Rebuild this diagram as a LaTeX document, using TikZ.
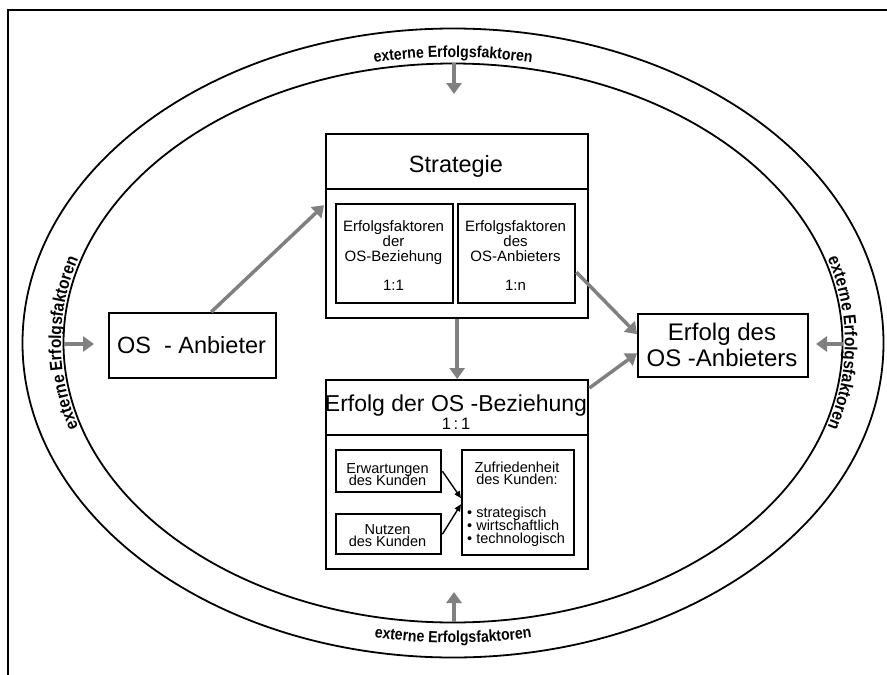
\documentclass[tikz,border=0pt]{standalone}
\usepackage{fontspec}
\setmainfont{Liberation Sans}
\newfontfamily\curvefont[FakeStretch=0.88]{Liberation Sans}
\usetikzlibrary{arrows.meta,decorations.text,calc}
\definecolor{arrgray}{RGB}{128,128,128}
\begin{document}
\begin{tikzpicture}[x=1pt,y=1pt,
  box/.style={draw, line width=2.4pt, inner sep=0pt, anchor=north west},
  garrow/.style={draw=arrgray, line width=3.5pt, -{Triangle[length=11pt,width=15pt]}},
  barrow/.style={draw=black, line width=1.4pt, -{Triangle[length=7pt,width=6pt]}},
  big/.style={anchor=base, inner sep=0pt, font=\fontsize{23.5}{26}\selectfont},
  mid/.style={anchor=base, inner sep=0pt, font=\fontsize{15}{15}\selectfont},
  small/.style={anchor=base, inner sep=0pt, font=\fontsize{14.5}{14.5}\selectfont},
  ring/.style={line width=1.8pt},
  curved/.style={decorate, decoration={text along path, text align=center,
     text={|\curvefont\bfseries\fontsize{16}{16}\selectfont|externe Erfolgsfaktoren}}},
  curvedside/.style={decorate, decoration={text along path, text align=center,
     text={|\curvefont\bfseries\fontsize{17.5}{17.5}\selectfont|externe Erfolgsfaktoren}}}
]
\useasboundingbox (0,0) rectangle (887,-675);
% frame
\draw[line width=1.4pt] (8,-675) -- (8,-10) -- (887,-10);
% ellipses
\coordinate (ctr) at (453,-343);
\draw[ring] (ctr) ellipse [x radius=430.5, y radius=314.5];
\draw[ring] (ctr) ellipse [x radius=389.5, y radius=279.5];
% curved labels
\path[curved] (ctr) ++(120:394 and 286) arc[start angle=120, end angle=60, x radius=394, y radius=286];
\path[curved] (ctr) ++(240:405 and 300) arc[start angle=240, end angle=300, x radius=405, y radius=300];
\path[curvedside] (ctr) ++(215:392 and 286) arc[start angle=215, end angle=145, x radius=392, y radius=286];
\path[curvedside] (ctr) ++(35:392 and 286) arc[start angle=35, end angle=-35, x radius=392, y radius=286];
% external arrows
\coordinate (etop) at (454,-63);   \coordinate (etopend) at (454,-94);
\coordinate (ebot) at (454,-622);  \coordinate (ebotend) at (454,-592);
\coordinate (eleft) at (64,-344);  \coordinate (eleftend) at (94,-344);
\coordinate (eright) at (843,-344);\coordinate (erightend) at (816,-344);
\draw[garrow] (etop) -- (etopend);
\draw[garrow] (ebot) -- (ebotend);
\draw[garrow] (eleft) -- (eleftend);
\draw[garrow] (eright) -- (erightend);
% OS - Anbieter
\node[box, minimum width=167pt, minimum height=65pt] (osa) at (108,-312) {};
\node[big] (osat) at (191.5,-353) {OS~~- Anbieter};
% Strategie
\node[box, minimum width=262pt, minimum height=184pt] (strat) at (325,-133) {};
\draw[line width=2.4pt] (strat.west |- 0,-189) coordinate (sdl) -- (strat.east |- 0,-189) coordinate (sdr);
\node[big] (stratt) at (456,-172) {Strategie};
\node[box, minimum width=117pt, minimum height=99pt] (sf1) at (335,-203) {};
\node[box, minimum width=117pt, minimum height=99pt] (sf2) at (457,-203) {};
\node[mid] (sf1a) at (393.5,-231) {Erfolgsfaktoren};
\node[mid] (sf1b) at (393.5,-246) {der};
\node[mid] (sf1c) at (393.5,-261.5) {OS-Beziehung};
\node[mid] (sf1d) at (393.5,-290) {1:1};
\node[mid] (sf2a) at (515.5,-231) {Erfolgsfaktoren};
\node[mid] (sf2b) at (515.5,-246) {des};
\node[mid] (sf2c) at (515.5,-261.5) {OS-Anbieters};
\node[mid] (sf2d) at (515.5,-290) {1:n};
% Erfolg der OS-Beziehung
\node[box, minimum width=262pt, minimum height=189pt] (eob) at (325,-379) {};
\draw[line width=2.4pt] (eob.west |- 0,-435) coordinate (edl) -- (eob.east |- 0,-435) coordinate (edr);
\node[big, font=\fontsize{23}{26}\selectfont] (eobt) at (456,-411) {Erfolg der OS -Beziehung};
\node[mid, font=\fontsize{16.5}{16.5}\selectfont] (eobn) at (456,-429) {1\,:\,1};
\node[box, minimum width=105pt, minimum height=42pt] (erw) at (335,-449) {};
\node[box, minimum width=105pt, minimum height=40pt] (nutz) at (335,-513) {};
\node[box, minimum width=112pt, minimum height=105pt] (zuf) at (461,-449) {};
\node[small] (erwa) at (387.5,-473.5) {Erwartungen};
\node[small] (erwb) at (387.5,-485) {des Kunden};
\node[small] (nutza) at (387.5,-534) {Nutzen};
\node[small] (nutzb) at (387.5,-546) {des Kunden};
\node[small] (zufa) at (517,-472.5) {Zufriedenheit};
\node[small] (zufb) at (517,-484.5) {des Kunden:};
\node[small, anchor=base west] (zufc) at (467,-517) {• strategisch};
\node[small, anchor=base west] (zufd) at (467,-530) {• wirtschaftlich};
\node[small, anchor=base west] (zufe) at (467,-543.5) {• technologisch};
\draw[barrow] (erw.east) -- ($(zuf.west)+(0,4.5)$);
\draw[barrow] (nutz.east) -- ($(zuf.west)+(0,-1.5)$);
% Erfolg des OS-Anbieters
\node[box, minimum width=170pt, minimum height=63pt] (ed) at (637,-313) {};
\node[big, font=\fontsize{24}{26}\selectfont] (eda) at (722,-340) {Erfolg des};
\node[big, font=\fontsize{24}{26}\selectfont] (edb) at (722,-366) {OS -Anbieters};
% internal arrows
\draw[garrow] ($(osa.north)+(18.5,0)$) -- ($(strat.west)+(-1,21)$);
\draw[garrow] (strat.south) -- (eob.north);
\draw[garrow] ($(sf2.east)+(0,-18.5)$) -- ($(ed.west)+(0,11.5)$);
\draw[garrow] ($(eob.north east)+(0,-9)$) -- ($(ed.west)+(0,-7.5)$);
\end{tikzpicture}
\end{document}
